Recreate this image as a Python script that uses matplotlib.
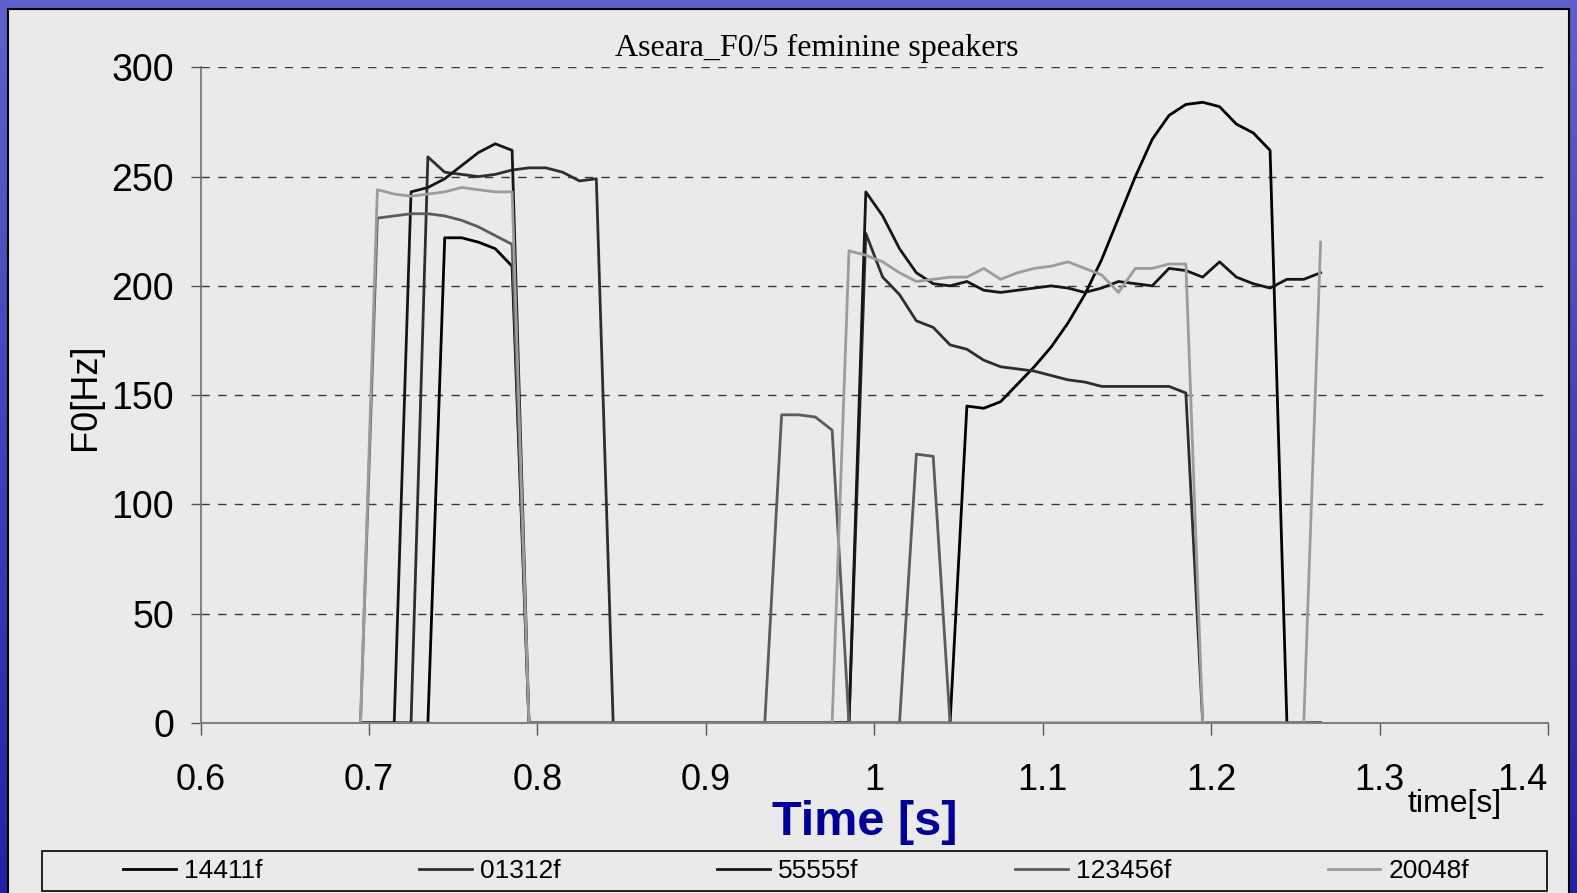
import numpy as np
import matplotlib
matplotlib.use("Agg")
import matplotlib.pyplot as plt
from matplotlib import font_manager
from matplotlib.patches import Rectangle

# F0 contours (Hz) for five female speakers, sampled every 10 ms; 0 = unvoiced
time_s = [0.695, 0.705, 0.715, 0.725, 0.735, 0.745, 0.755, 0.765, 0.775, 0.785,
          0.795, 0.805, 0.815, 0.825, 0.835, 0.845, 0.855, 0.865, 0.875, 0.885,
          0.895, 0.905, 0.915, 0.925, 0.935, 0.945, 0.955, 0.965, 0.975, 0.985,
          0.995, 1.005, 1.015, 1.025, 1.035, 1.045, 1.055, 1.065, 1.075, 1.085,
          1.095, 1.105, 1.115, 1.125, 1.135, 1.145, 1.155, 1.165, 1.175, 1.185,
          1.195, 1.205, 1.215, 1.225, 1.235, 1.245, 1.255, 1.265]

f0_14411f = [0, 0, 0, 0, 0, 222, 222, 220, 217, 209,
             0, 0, 0, 0, 0, 0, 0, 0, 0, 0,
             0, 0, 0, 0, 0, 0, 0, 0, 0, 0,
             0, 0, 0, 0, 0, 0, 145, 144, 147, 155,
             163, 172, 183, 196, 212, 231, 250, 267, 278, 283,
             284, 282, 274, 270, 262, 0, 0, 0]

f0_01312f = [0, 0, 0, 0, 259, 252, 251, 250, 251, 253,
             254, 254, 252, 248, 249, 0, 0, 0, 0, 0,
             0, 0, 0, 0, 0, 0, 0, 0, 0, 0,
             224, 204, 196, 184, 181, 173, 171, 166, 163, 162,
             161, 159, 157, 156, 154, 154, 154, 154, 154, 151,
             0, 0, 0, 0, 0, 0, 0, 0]

f0_55555f = [0, 0, 0, 243, 245, 249, 255, 261, 265, 262,
             0, 0, 0, 0, 0, 0, 0, 0, 0, 0,
             0, 0, 0, 0, 0, 0, 0, 0, 0, 0,
             243, 232, 217, 206, 201, 200, 202, 198, 197, 198,
             199, 200, 199, 197, 199, 202, 201, 200, 208, 207,
             204, 211, 204, 201, 199, 203, 203, 206]

f0_123456f = [0, 231, 232, 233, 233, 232, 230, 227, 223, 219,
              0, 0, 0, 0, 0, 0, 0, 0, 0, 0,
              0, 0, 0, 0, 0, 141, 141, 140, 134, 0,
              0, 0, 0, 123, 122, 0, 0, 0, 0, 0,
              0, 0, 0, 0, 0, 0, 0, 0, 0, 0,
              0, 0, 0, 0, 0, 0, 0, 0]

f0_20048f = [0, 244, 242, 241, 242, 243, 245, 244, 243, 243,
             0, 0, 0, 0, 0, 0, 0, 0, 0, 0,
             0, 0, 0, 0, 0, 0, 0, 0, 0, 216,
             214, 211, 206, 202, 203, 204, 204, 208, 203, 206,
             208, 209, 211, 208, 205, 197, 208, 208, 210, 210,
             0, 0, 0, 0, 0, 0, 0, 220]

speakers = ["14411f", "01312f", "55555f", "123456f", "20048f"]
series = [f0_14411f, f0_01312f, f0_55555f, f0_123456f, f0_20048f]
colors = ["#000000", "#2e2e2e", "#161616", "#5c5c5c", "#9c9c9c"]

x_ticks = [0.6, 0.7, 0.8, 0.9, 1.0, 1.1, 1.2, 1.3, 1.4]
x_tick_labels = ["0.6", "0.7", "0.8", "0.9", "1", "1.1", "1.2", "1.3", "1.4"]
y_ticks = [0, 50, 100, 150, 200, 250, 300]


def pick_font(*names):
    installed = {f.name for f in font_manager.fontManager.ttflist}
    for n in names:
        if n in installed:
            return n
    return "DejaVu Sans"


NARROW = pick_font("Liberation Sans Narrow", "Arial Narrow", "Liberation Sans")
SERIF = pick_font("Liberation Serif", "DejaVu Serif")
SANS = pick_font("Liberation Sans", "DejaVu Sans")

W, H = 1577, 893
fig = plt.figure(figsize=(W / 100, H / 100), dpi=100)

# slide background: blue gradient with the grey chart area on top
bg = fig.add_axes([0, 0, 1, 1])
grad = np.linspace(0, 1, 256).reshape(-1, 1)
top_c = np.array([0x60, 0x60, 0xcc]) / 255
bot_c = np.array([0x22, 0x22, 0xa4]) / 255
img = top_c[None, None, :] * (1 - grad[:, :, None]) + bot_c[None, None, :] * grad[:, :, None]
bg.imshow(img, extent=[0, 1, 0, 1], aspect="auto", origin="upper")
bg.add_patch(Rectangle((8 / W, -0.02), (1569 - 8) / W, 1 - 9 / H + 0.02,
                       facecolor="#eaeaea", edgecolor="black", lw=1.5))
bg.set_xlim(0, 1)
bg.set_ylim(0, 1)
bg.axis("off")

ax = fig.add_axes([200.5 / W, 1 - 723 / H, (1548 - 200.5) / W, (723 - 67.3) / H])
ax.set_facecolor("none")

for name, vals, c in zip(speakers, series, colors):
    ax.plot(time_s, vals, color=c, lw=2.0, label=name)

ax.set_xlim(0.6, 1.4)
ax.set_ylim(0, 300)
ax.set_xticks(x_ticks)
ax.set_xticklabels(x_tick_labels)
ax.set_yticks(y_ticks)
ax.yaxis.grid(True, linestyle=(0, (6, 6)), color="#383838", lw=1.0)
ax.set_axisbelow(True)

for s in ("top", "right"):
    ax.spines[s].set_visible(False)
ax.spines["left"].set_color("#707070")
ax.spines["bottom"].set_color("#808080")
ax.spines["left"].set_linewidth(1.2)
ax.spines["bottom"].set_linewidth(1.5)

ax.tick_params(axis="x", direction="out", length=8.5, width=1, color="#555555",
               pad=20, labelsize=26)
ax.tick_params(axis="y", direction="out", length=7, width=1, color="#555555",
               pad=12, labelsize=27)
for lab in ax.get_xticklabels() + ax.get_yticklabels():
    lab.set_family(NARROW)
# last tick label sits just inside the chart border
ax.get_xticklabels()[-1].set_horizontalalignment("right")
ax.get_xticklabels()[-1].set_x(1.4 + 0.0055)

fig.text(0.518, 1 - 56 / H, "Aseara_F0/5 feminine speakers", family=SERIF,
         fontsize=23, ha="center", va="baseline")
fig.text(86 / W, 1 - 397 / H, "F0[Hz]", family=NARROW, fontsize=26,
         rotation=90, ha="center", va="center")
fig.text(1502 / W, 1 - 804 / H, "time[s]", family=NARROW, fontsize=23,
         ha="right", va="center")
fig.text(864.5 / W, 1 - 835 / H, "Time [s]", family=SANS, fontsize=35,
         fontweight="bold", color="#000099", ha="center", va="baseline")

# legend strip along the bottom
bg.add_patch(Rectangle((42 / W, 1 - 891 / H), (1547 - 42) / W, (891 - 851) / H,
                       facecolor="#eaeaea", edgecolor="black", lw=1.2))
handles, labels = ax.get_legend_handles_labels()
fig.legend(handles, labels, ncol=5, mode="expand", frameon=False,
           loc="center", bbox_to_anchor=(123 / W, 1 - 891 / H, (1469 - 123) / W, 40 / H),
           borderpad=0, borderaxespad=0, handlelength=2.0, handletextpad=0.3,
           prop={"family": NARROW, "size": 19})

fig.savefig("out.png", dpi=100)
